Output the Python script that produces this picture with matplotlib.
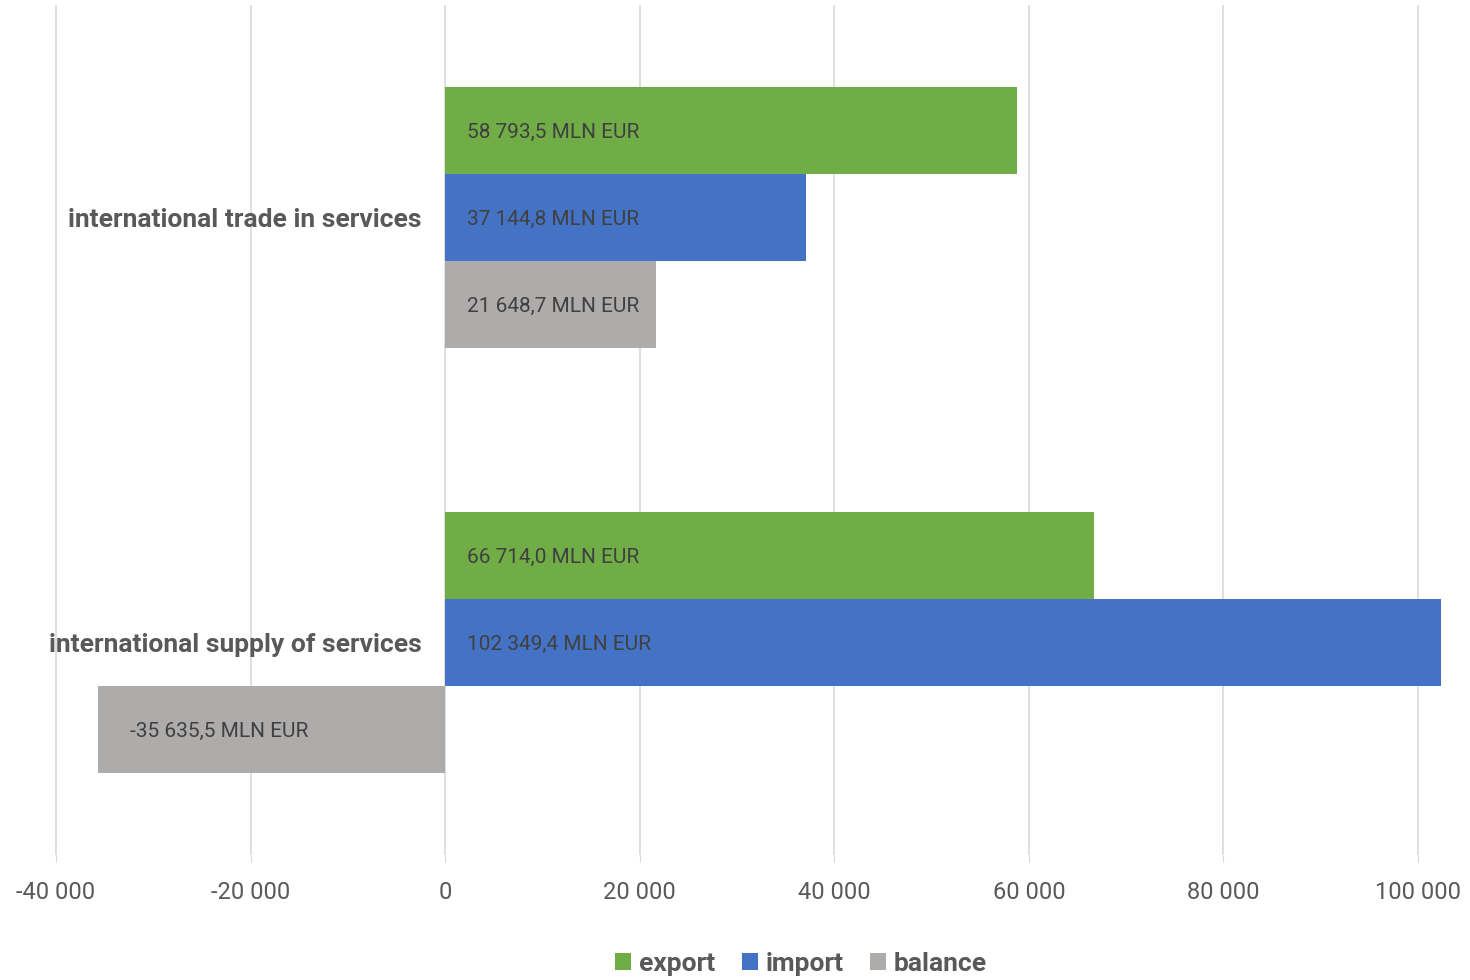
import matplotlib
matplotlib.use("Agg")
import matplotlib.pyplot as plt
from matplotlib import font_manager
import numpy as np

categories = ["international trade in services", "international supply of services"]
series = ["export", "import", "balance"]
export_vals = [58793.5, 66714.0]
import_vals = [37144.8, 102349.4]
balance_vals = [21648.7, -35635.5]
xticks = [-40000, -20000, 0, 20000, 40000, 60000, 80000, 100000]

colors = ["#70AD47", "#4472C4", "#AEABAB"]

avail = {f.name for f in font_manager.fontManager.ttflist}
fam = "Liberation Sans Narrow" if "Liberation Sans Narrow" in avail else "Roboto"
plt.rcParams["font.family"] = [fam, "DejaVu Sans"]


def fmt(v, dec=1):
    s = f"{abs(v):,.{dec}f}".replace(",", " ").replace(".", ",")
    return ("-" if v < 0 else "") + s


fig = plt.figure(figsize=(14.7, 9.8), dpi=100)
ax = fig.add_axes([0.0, 0.1276, 1.0, 0.8673])

y = np.arange(len(categories))
h = 0.205
vals = [export_vals, import_vals, balance_vals]
for i, (name, v, c) in enumerate(zip(series, vals, colors)):
    pos = y + (i - 1) * h
    ax.barh(pos, v, height=h, color=c, label=name, zorder=3)
    for p, val in zip(pos, v):
        x0 = min(val, 0)
        off = 32 if val < 0 else 22
        ax.annotate(fmt(val) + " MLN EUR", (x0, p), xytext=(off, -2),
                    textcoords="offset pixels",
                    ha="left", va="center", fontsize=15, color="#404040", zorder=4)

ax.set_xlim(-45760, 105350)
ax.set_ylim(1.5, -0.5)
ax.set_xticks(xticks)
ax.set_xticklabels([fmt(t, 0) for t in xticks], fontsize=17, color="#595959")
ax.tick_params(axis="x", length=5, color="#D9D9D9", pad=14)
ax.grid(axis="x", color="#D9D9D9", linewidth=1.2, zorder=0)

ax.spines["left"].set_position(("data", 0))
for s in ["top", "right", "bottom", "left"]:
    ax.spines[s].set_visible(False)
ax.set_yticks(y)
ax.set_yticklabels(categories, fontsize=19, fontweight="bold", color="#595959")
ax.tick_params(axis="y", length=0, pad=17)

leg = fig.legend(loc="lower center", ncol=3, frameon=False, bbox_to_anchor=(0.545, -0.02),
                 prop={"size": 19, "weight": "bold"}, handlelength=0.6, handleheight=0.6,
                 handletextpad=0.3, columnspacing=1.0)
for t in leg.get_texts():
    t.set_color("#595959")

fig.savefig("out.png", dpi=100)
